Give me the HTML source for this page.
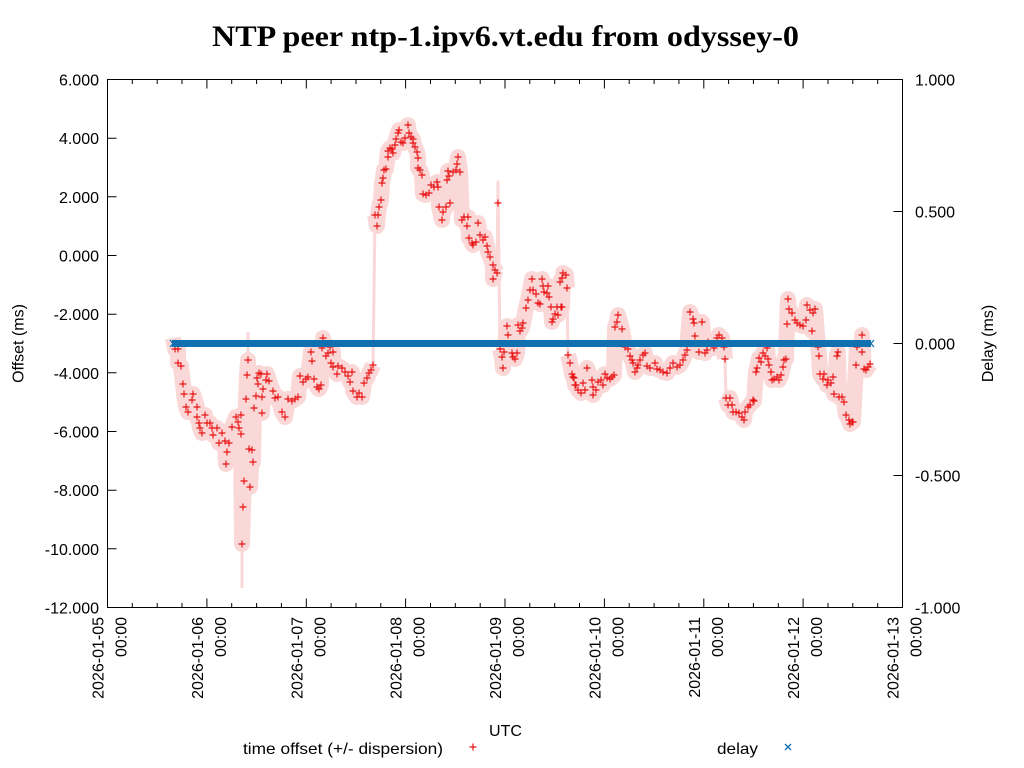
<!DOCTYPE html>
<html><head><meta charset="utf-8"><style>
html,body{margin:0;padding:0;background:#fff;}
svg{display:block;}
text{font-family:"Liberation Sans",sans-serif;fill:#000;}
</style></head><body>
<svg width="1024" height="768" viewBox="0 0 1024 768" xmlns="http://www.w3.org/2000/svg">
<defs>
<marker id="p" markerUnits="userSpaceOnUse" markerWidth="10" markerHeight="10" refX="5" refY="5" overflow="visible"><path d="M1.5 5H8.5M5 1.5V8.5" stroke="#e81212" stroke-width="1.15" fill="none"/></marker>
</defs>
<rect width="1024" height="768" fill="#fff"/>
<text x="505.5" y="46" text-anchor="middle" style="font-family:'Liberation Serif',serif;font-weight:bold;font-size:30px" textLength="587" lengthAdjust="spacingAndGlyphs">NTP peer ntp-1.ipv6.vt.edu from odyssey-0</text>

<!-- dispersion band -->
<g fill="none" stroke="#fad8d8" stroke-linejoin="round" stroke-linecap="butt" stroke-width="16">
<polyline points="173,338 175,349 178,349 178,363 181,366 183,384 184,394 186,407 188,412 192,400 193,394 197,407 197,417 199,423 200,428 202,433 205,415 207,423 210,423 212,428 213,435 217,428 219,443 222,433 225,441 226,464 227,452 229,443 232,427 236,417 238,422 239,428 241,415 241,434 242,544 243,507 244,481 246,399 247,375 248,360 249,449 250,487 252,450 253,462 254,408 256,396 257,378 258,384 259,373 261,374 262,397 262,413 263,389 266,380 267,374 269,381 273,391 275,398 278,397 282,412 285,417 288,399 292,401 295,399 298,397 300,376 303,382 306,379 308,377 311,352 312,361 314,379 317,387 319,389 321,385 322,348 323,338 326,356 328,353 330,347 331,363 333,352 333,367 337,374 338,366 342,368 345,372 348,376 350,382 352,372 353,391 357,397 359,393 362,397 364,383 367,378 369,373 371,370 373,365"/>
<polyline points="375,215 377,226 378,215 379,207 381,200 382,183 383,178 384,170 386,169 388,151 388,157 390,148 392,149 393,153 395,145 396,139 398,133 399,130 401,142 403,143 405,138 408,125 409,133 411,137 413,139 413,143 415,147 417,152 418,158 418,168 420,170 422,175 423,194 426,195 429,193 431,185 434,187 437,182 438,187 439,207 442,220 443,212 446,207 447,180 448,171 449,176 450,203 453,172 456,170 457,164 458,157 460,172 462,220 464,217 467,226 468,217 469,238 472,243 473,245 476,242 478,223 480,235 483,240 485,237 487,246 488,252 490,257 493,265 493,279 495,270 497,273"/>
<polyline points="500,349 502,357 503,368 504,352 507,326 508,335 512,353 513,357 515,359 517,353 518,325 520,331 522,328 523,323 526,308 528,300 530,290 532,279 533,290 536,294 538,303 540,304 542,279 543,286 544,292 547,293 548,286 549,297 551,307 552,322 553,319 555,314 557,307 558,315 560,282 561,307 562,278 562,307 563,273 566,275 567,288"/>
<polyline points="568,355 570,363 572,374 573,377 574,378 575,385 576,385 578,390 581,393 583,383 585,390 587,368 592,380 593,387 593,395 596,390 598,382 601,380 603,385 605,374 607,378 610,379 612,377 614,375 615,327 617,322 618,315 622,329 625,347 628,349 630,356 632,360 633,363 635,372 637,368 638,365 640,360 643,355 645,353 647,366 650,368 655,363 657,369 660,370 663,372 667,373 670,368 673,363 677,367 680,365 683,360 685,355 687,350 690,312 693,319 694,323 695,336 699,352 702,322 705,353 707,350 708,342 714,348 717,338 719,335 722,338 724,347 725,359"/>
<polyline points="726,398 728,405 730,398 732,405 733,412 736,412 739,413 742,417 744,420 745,412 748,407 750,405 753,400 754,401 756,372 757,368 759,358 761,362 763,353 765,356 767,348 768,359 769,365 771,372 772,380 774,379 777,377 779,380 781,375 783,367 784,360 786,359 787,324 788,299 789,309 792,313 795,320 797,323 800,325 803,326 806,320 807,305 810,310 812,331 813,313 815,309 818,347 819,356 820,374 823,379 824,374 827,385 828,380 831,383 833,377 834,394 837,356 838,352 839,397 842,397 844,402 846,415 849,420 850,424 852,422 853,422 856,365 857,347 862,352 862,335 864,369 866,370 868,367 870,364"/>
<polyline stroke-width="3" points="373,365 375,215"/>
<polyline stroke-width="3" points="497,273 498,182 500,349"/>
<polyline stroke-width="3" points="567,288 568,355"/>
<polyline stroke-width="3" points="725,359 726,398"/>
<line x1="242" y1="520" x2="242" y2="588" stroke-width="3"/>
<line x1="248" y1="360" x2="248" y2="332" stroke-width="3"/>
</g>

<!-- offset points -->
<polyline fill="none" stroke="none" marker-start="url(#p)" marker-mid="url(#p)" marker-end="url(#p)" points="175,349 178,349 178,363 181,366 183,384 184,394 186,407 188,412 192,400 193,394 197,407 197,417 199,423 200,428 202,433 205,415 207,423 210,423 212,428 213,435 217,428 219,443 222,433 225,441 226,464 227,452 229,443 232,427 236,417 238,422 239,428 241,415 241,434 242,544 243,507 244,481 246,399 247,375 248,360 249,449 250,487 252,450 253,462 254,408 256,396 257,378 258,384 259,373 261,374 262,397 262,413 263,389 266,380 267,374 269,381 273,391 275,398 278,397 282,412 285,417 288,399 292,401 295,399 298,397 300,376 303,382 306,379 308,377 311,352 312,361 314,379 317,387 319,389 321,385 322,348 323,338 326,356 328,353 330,347 331,363 333,352 333,367 337,374 338,366 342,368 345,372 348,376 350,382 352,372 353,391 357,397 359,393 362,397 364,383 367,378 369,373 371,370 373,365 375,215 377,226 378,215 379,207 381,200 382,183 383,178 384,170 386,169 388,151 388,157 390,148 392,149 393,153 395,145 396,139 398,133 399,130 401,142 403,143 405,138 408,125 409,133 411,137 413,139 413,143 415,147 417,152 418,158 418,168 420,170 422,175 423,194 426,195 429,193 431,185 434,187 437,182 438,187 439,207 442,220 443,212 446,207 447,180 448,171 449,176 450,203 453,172 456,170 457,164 458,157 460,172 462,220 464,217 467,226 468,217 469,238 472,243 473,245 476,242 478,223 480,235 483,240 485,237 487,246 488,252 490,257 493,265 493,279 495,270 497,273 498,203 500,349 502,357 503,368 504,352 507,326 508,335 512,353 513,357 515,359 517,353 518,325 520,331 522,328 523,323 526,308 528,300 530,290 532,279 533,290 536,294 538,303 540,304 542,279 543,286 544,292 547,293 548,286 549,297 551,307 552,322 553,319 555,314 557,307 558,315 560,282 561,307 562,278 562,307 563,273 566,275 567,288 568,355 570,363 572,374 573,377 574,378 575,385 576,385 578,390 581,393 583,383 585,390 587,368 592,380 593,387 593,395 596,390 598,382 601,380 603,385 605,374 607,378 610,379 612,377 614,375 615,327 617,322 618,315 622,329 625,347 628,349 630,356 632,360 633,363 635,372 637,368 638,365 640,360 643,355 645,353 647,366 650,368 655,363 657,369 660,370 663,372 667,373 670,368 673,363 677,367 680,365 683,360 685,355 687,350 690,312 693,319 694,323 695,336 699,352 702,322 705,353 707,350 708,342 714,348 717,338 719,335 722,338 724,347 725,359 726,398 728,405 730,398 732,405 733,412 736,412 739,413 742,417 744,420 745,412 748,407 750,405 753,400 754,401 756,372 757,368 759,358 761,362 763,353 765,356 767,348 768,359 769,365 771,372 772,380 774,379 777,377 779,380 781,375 783,367 784,360 786,359 787,324 788,299 789,309 792,313 795,320 797,323 800,325 803,326 806,320 807,305 810,310 812,331 813,313 815,309 818,347 819,356 820,374 823,379 824,374 827,385 828,380 831,383 833,377 834,394 837,356 838,352 839,397 842,397 844,402 846,415 849,420 850,424 852,422 853,422 856,365 857,347 862,352 862,335 864,369 866,370 868,367 870,364"/>

<!-- delay band -->
<rect x="172" y="340" width="699" height="7" fill="#1070b0"/>
<path d="M170 340L176 347M176 340L170 347M868 340L874 347M874 340L868 347" stroke="#1070b0" stroke-width="1.3"/>

<!-- frame -->
<rect x="107.5" y="79.5" width="795" height="528" fill="none" stroke="#000" stroke-width="1"/>
<g stroke="#000" stroke-width="1">
<path d="M107.5 607.5v-9M206.9 607.5v-9M306.3 607.5v-9M405.6 607.5v-9M505 607.5v-9M604.4 607.5v-9M703.8 607.5v-9M803.1 607.5v-9M902.5 607.5v-9"/>
<path d="M107.5 79.5v9M206.9 79.5v9M306.3 79.5v9M405.6 79.5v9M505 79.5v9M604.4 79.5v9M703.8 79.5v9M803.1 79.5v9M902.5 79.5v9"/>
<path d="M132.3 607.5v-4.5M157.2 607.5v-4.5M182 607.5v-4.5M231.7 607.5v-4.5M256.6 607.5v-4.5M281.4 607.5v-4.5M331.1 607.5v-4.5M356 607.5v-4.5M380.8 607.5v-4.5M430.5 607.5v-4.5M455.3 607.5v-4.5M480.2 607.5v-4.5M529.8 607.5v-4.5M554.7 607.5v-4.5M579.5 607.5v-4.5M629.2 607.5v-4.5M654.1 607.5v-4.5M678.9 607.5v-4.5M728.6 607.5v-4.5M753.4 607.5v-4.5M778.3 607.5v-4.5M828 607.5v-4.5M852.8 607.5v-4.5M877.7 607.5v-4.5"/>
<path d="M132.3 79.5v4.5M157.2 79.5v4.5M182 79.5v4.5M231.7 79.5v4.5M256.6 79.5v4.5M281.4 79.5v4.5M331.1 79.5v4.5M356 79.5v4.5M380.8 79.5v4.5M430.5 79.5v4.5M455.3 79.5v4.5M480.2 79.5v4.5M529.8 79.5v4.5M554.7 79.5v4.5M579.5 79.5v4.5M629.2 79.5v4.5M654.1 79.5v4.5M678.9 79.5v4.5M728.6 79.5v4.5M753.4 79.5v4.5M778.3 79.5v4.5M828 79.5v4.5M852.8 79.5v4.5M877.7 79.5v4.5"/>
<path d="M107.5 79.5h9M107.5 138.2h9M107.5 196.8h9M107.5 255.5h9M107.5 314.2h9M107.5 372.8h9M107.5 431.5h9M107.5 490.2h9M107.5 548.8h9M107.5 607.5h9"/>
<path d="M902.5 79.5h-9M902.5 211.5h-9M902.5 343.5h-9M902.5 475.5h-9M902.5 607.5h-9"/>
</g>

<!-- left tick labels -->
<g font-size="16" text-anchor="end">
<text x="99" y="85.5">6.000</text>
<text x="99" y="144.2">4.000</text>
<text x="99" y="202.8">2.000</text>
<text x="99" y="261.5">0.000</text>
<text x="99" y="320.2">-2.000</text>
<text x="99" y="378.8">-4.000</text>
<text x="99" y="437.5">-6.000</text>
<text x="99" y="496.2">-8.000</text>
<text x="99" y="554.8">-10.000</text>
<text x="99" y="613.5">-12.000</text>
</g>
<!-- right tick labels -->
<g font-size="16" text-anchor="start">
<text x="915" y="85.5">1.000</text>
<text x="915" y="217.5">0.500</text>
<text x="915" y="349.5">0.000</text>
<text x="915" y="481.5">-0.500</text>
<text x="915" y="613.5">-1.000</text>
</g>
<!-- x tick labels -->
<g font-size="16" text-anchor="end">
<text transform="translate(103.5,617) rotate(-90)">2026-01-05</text>
<text transform="translate(126.5,617) rotate(-90)">00:00</text>
<text transform="translate(202.9,617) rotate(-90)">2026-01-06</text>
<text transform="translate(225.9,617) rotate(-90)">00:00</text>
<text transform="translate(302.3,617) rotate(-90)">2026-01-07</text>
<text transform="translate(325.3,617) rotate(-90)">00:00</text>
<text transform="translate(401.6,617) rotate(-90)">2026-01-08</text>
<text transform="translate(424.6,617) rotate(-90)">00:00</text>
<text transform="translate(501,617) rotate(-90)">2026-01-09</text>
<text transform="translate(524,617) rotate(-90)">00:00</text>
<text transform="translate(600.4,617) rotate(-90)">2026-01-10</text>
<text transform="translate(623.4,617) rotate(-90)">00:00</text>
<text transform="translate(699.8,617) rotate(-90)">2026-01-11</text>
<text transform="translate(722.8,617) rotate(-90)">00:00</text>
<text transform="translate(799.1,617) rotate(-90)">2026-01-12</text>
<text transform="translate(822.1,617) rotate(-90)">00:00</text>
<text transform="translate(898.5,617) rotate(-90)">2026-01-13</text>
<text transform="translate(921.5,617) rotate(-90)">00:00</text>
</g>

<!-- axis titles -->
<text font-size="16" text-anchor="middle" transform="translate(23.5,343.5) rotate(-90)">Offset (ms)</text>
<text font-size="16" text-anchor="middle" transform="translate(993,343.5) rotate(-90)">Delay (ms)</text>
<text font-size="16" x="505.5" y="736" text-anchor="middle">UTC</text>

<!-- legend -->
<text font-size="16" x="243" y="754" textLength="200" lengthAdjust="spacingAndGlyphs">time offset (+/- dispersion)</text>
<path d="M469.5 747H476.5M473 743.5V750.5" stroke="#e81212" stroke-width="1.2"/>
<text font-size="16" x="717" y="754" textLength="41" lengthAdjust="spacingAndGlyphs">delay</text>
<path d="M785 744L791 750M791 744L785 750" stroke="#1070b0" stroke-width="1.3"/>
</svg>
</body></html>
